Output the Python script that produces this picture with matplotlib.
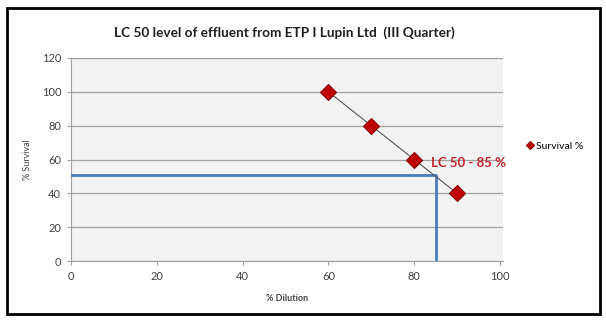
import matplotlib.pyplot as plt
from matplotlib.patches import Rectangle

dilution = [60, 70, 80, 90]
survival = [100, 80, 60, 40]
lc50_x = 85
lc50_y = 51
lc50_label = "LC 50 - 85 %"
series_name = "Survival %"
title = "LC 50 level of effluent from ETP I Lupin Ltd  (III Quarter)"

plt.rcParams['font.family'] = ['Lato', 'DejaVu Sans']

fig = plt.figure(figsize=(6.06, 3.22), dpi=100)
fig.patch.set_facecolor('white')

# black frame round the chart
fig.patches.append(Rectangle((7 / 606, 8 / 322), 593 / 606, 306 / 322, transform=fig.transFigure,
                             fill=False, edgecolor='black', linewidth=2))

ax = fig.add_axes([71 / 606, 1 - 261 / 322, 432 / 606, 203 / 322])
ax.set_facecolor('#f2f2f2')

# LC50 guide lines
ax.plot([0, lc50_x, lc50_x], [lc50_y, lc50_y, 0], color='#4a7ebb', linewidth=2, zorder=3)

ax.plot(dilution, survival, color='#555555', linewidth=0.8, zorder=4)
ax.plot(dilution, survival, linestyle='none', marker='D', markersize=8.5,
        markerfacecolor='#c00000', markeredgecolor='#8b0000', markeredgewidth=0.8,
        label=series_name, zorder=5)

ax.text(84, 58, lc50_label, color='#c0272d', fontsize=9.5, fontweight='bold', va='center', ha='left', zorder=6)

ax.set_xlim(0, 100.7)
ax.set_ylim(0, 120)
ax.set_xticks([0, 20, 40, 60, 80, 100])
ax.set_yticks([0, 20, 40, 60, 80, 100, 120])
ax.yaxis.grid(True, color='#a0a0a0', linewidth=0.9)
ax.set_axisbelow(True)

for s in ['top', 'right']:
    ax.spines[s].set_visible(False)
for s in ['left', 'bottom']:
    ax.spines[s].set_color('#a0a0a0')
ax.tick_params(colors='#404040', labelsize=8, length=3, color='#a0a0a0', pad=4)

ax.set_xlabel('% Dilution', fontsize=6.5, fontweight='bold', color='#404040', labelpad=9)
ax.set_ylabel('% Survival', fontsize=6.5, color='#404040', labelpad=7)

fig.text(284 / 606, 1 - 33 / 322, title, fontsize=9.8, fontweight='bold', ha='center', va='center', color='#202020')

fig.legend(loc='center left', bbox_to_anchor=(517 / 606, 1 - 146 / 322), frameon=False,
           fontsize=7.5, handlelength=0.6, handletextpad=0.3, markerscale=0.5)

fig.savefig('out.png', dpi=100)
